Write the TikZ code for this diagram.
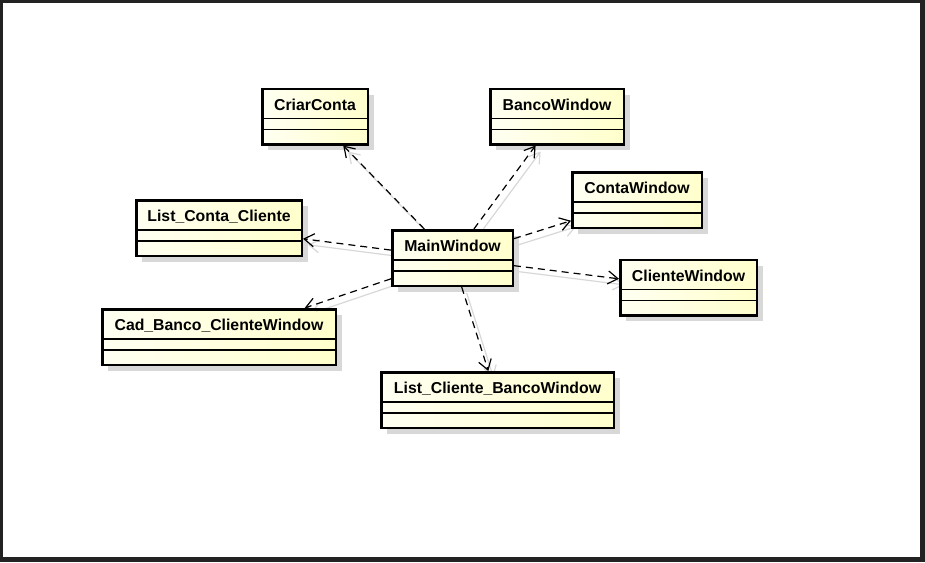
\documentclass[tikz,border=0pt]{standalone}
\usepackage{fontspec}
\setmainfont{Liberation Sans}
\usetikzlibrary{arrows.meta,shadows}

\definecolor{framegray}{HTML}{222222}
\definecolor{classleft}{HTML}{FFFFF2}
\definecolor{classright}{HTML}{FFFFCC}
\definecolor{shadowgray}{HTML}{D8D8D8}

\pgfdeclarelayer{bg}
\pgfsetlayers{bg,main}

\tikzset{
  classbox/.style={draw, line width=2.5pt, minimum height=55.5pt, inner sep=0pt,
    left color=classleft, right color=classright,
    drop shadow={shadow xshift=6pt, shadow yshift=-6pt, fill=shadowgray, opacity=1}},
  classname/.style={font=\fontsize{15.8}{18}\selectfont\bfseries, inner sep=0pt,
    text height=11.3pt, text depth=0pt},
  divider/.style={line width=1.2pt},
  depends/.style={dash pattern=on 7pt off 5pt, line width=1.2pt,
    -{Straight Barb[length=10pt,width=13pt,line width=1.2pt]}},
  dependshadow/.style={shadowgray, line width=1.2pt,
    -{Straight Barb[length=10pt,width=13pt,line width=1.2pt]},
    transform canvas={shift={(5pt,-6pt)}}}
}

% class box: name, position, width, label
\newcommand{\umlclass}[4]{%
  \node[classbox, minimum width=#3] (#1) at (#2) {};
  \node[classname] (#1-name) at ([yshift=-17pt]#1.north) {#4};
  \draw[divider] ([yshift=-31pt]#1.north west) -- ([yshift=-31pt]#1.north east);
  \draw[divider] ([yshift=-42pt]#1.north west) -- ([yshift=-42pt]#1.north east);
}

\begin{document}
\begin{tikzpicture}[x=1pt, y=-1pt]
	\useasboundingbox (0,0) rectangle (925,562);

	% frame
	\begin{pgfonlayer}{bg}
		\fill[framegray] (0,0) rectangle (925,562);
		\fill[white] (3,3) rectangle (920,557);
	\end{pgfonlayer}

	% classes
	\umlclass{criar}{315,116.5}{105.5pt}{CriarConta}
	\umlclass{banco}{557,116.5}{133.5pt}{BancoWindow}
	\umlclass{conta}{637,200}{129.5pt}{ContaWindow}
	\umlclass{listconta}{219,228}{165.5pt}{List\_Conta\_Cliente}
	\umlclass{main}{452.5,258}{120.5pt}{MainWindow}
	\umlclass{cliente}{688.5,287.5}{136.5pt}{ClienteWindow}
	\umlclass{cad}{219,337}{233.5pt}{Cad\_Banco\_ClienteWindow}
	\umlclass{listcliente}{497.5,400}{232.5pt}{List\_Cliente\_BancoWindow}

	% connector shadows
	\begin{pgfonlayer}{bg}
		\foreach \target in {criar,banco,conta,listconta,cliente,cad,listcliente}
			\draw[dependshadow] (main) -- (\target);
	\end{pgfonlayer}

	% dependencies
	\foreach \target in {criar,banco,conta,listconta,cliente,cad,listcliente}
		\draw[depends] (main) -- (\target);

\end{tikzpicture}
\end{document}
